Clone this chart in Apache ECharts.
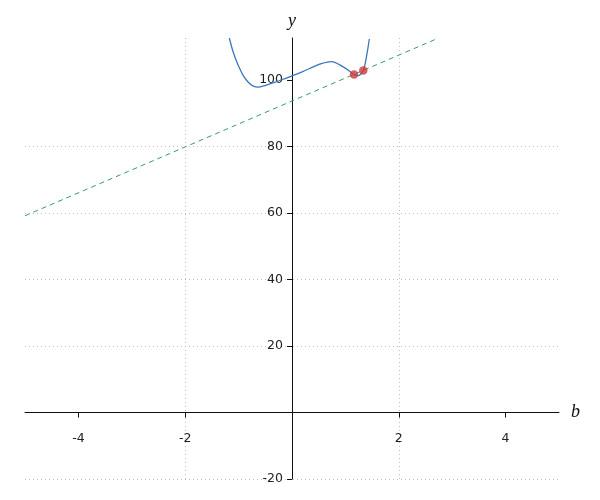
<!DOCTYPE html>
<html>
<head>
<meta charset="utf-8">
<script src="https://cdn.jsdelivr.net/npm/echarts@6/dist/echarts.min.js"></script>
<style>html,body{margin:0;padding:0;background:#fff}#c{width:600px;height:500px}</style>
</head>
<body>
<div id="c"></div>
<script>
// Curve samples
const curveX = [-1.174, -1.10, -1.006, -0.912, -0.818, -0.725, -0.631, -0.506, -0.318, -0.131, 0, 0.2, 0.4, 0.55, 0.743, 0.96, 1.086, 1.161, 1.242, 1.335, 1.398, 1.448];
const curveY = [112.7, 108.4, 104.4, 101.4, 99.4, 98.2, 97.9, 98.4, 99.4, 100.5, 101.3, 102.6, 104.0, 105.0, 105.6, 104.0, 102.6, 101.7, 101.4, 102.9, 107.4, 112.4];
// Secant line endpoints
const lineX = [-5, 2.73];
const lineY = [59.2, 112.6];
// Marked points
const pointX = [1.161, 1.335];
const pointY = [101.7, 102.9];
// Ticks
const xTicks = [-4, -2, 2, 4];
const yTicks = [-20, 20, 40, 60, 80, 100];

const zip = (a, b) => a.map((v, i) => [v, b[i]]);

const G = {left: 25, right: 41, top: 38, bottom: 21};
const W = 600, H = 500;
const chart = echarts.init(document.getElementById('c'), null, {renderer: 'canvas'});
const labelStyle = {color: '#222', fontSize: 12.5, fontFamily: 'DejaVu Sans'};
const gridLine = {color: '#bdbdbd', type: [1, 3], width: 1};
const option = {
  animation: false,
  grid: Object.assign({containLabel: false, outerBoundsMode: 'none'}, G),
  xAxis: {
    type: 'value', min: -5, max: 5, splitNumber: 5,
    name: 'b', nameLocation: 'end', nameGap: 12,
    nameTextStyle: {fontFamily: 'Liberation Serif', fontStyle: 'italic', fontSize: 18, color: '#111', verticalAlign: 'middle'},
    axisLine: {onZero: false, lineStyle: {color: '#111', width: 1}},
    axisTick: {show: true, length: 5, inside: false, customValues: xTicks, lineStyle: {color: '#111'}},
    axisLabel: Object.assign({margin: 20, customValues: xTicks}, labelStyle),
    splitLine: {show: true, showMinLine: false, showMaxLine: false, lineStyle: gridLine}
  },
  yAxis: {
    type: 'value', min: -20, max: 112.7, interval: 20,
    name: 'y', nameLocation: 'end', nameGap: 8,
    nameTextStyle: {fontFamily: 'Liberation Serif', fontStyle: 'italic', fontSize: 18, color: '#111', align: 'center'},
    axisLine: {onZero: false, lineStyle: {color: '#111', width: 1}},
    axisTick: {show: true, length: 5, inside: false, customValues: yTicks, lineStyle: {color: '#111'}},
    axisLabel: Object.assign({margin: 9, customValues: yTicks}, labelStyle),
    splitLine: {show: true, showMinLine: true, showMaxLine: false, lineStyle: gridLine}
  },
  series: [
    {
      type: 'line', data: zip(lineX, lineY), showSymbol: false, symbol: 'none',
      lineStyle: {color: '#3c9a5c', width: 1, type: [5, 4]}, z: 2
    },
    {
      type: 'line', data: zip(curveX, curveY), smooth: 0.3, showSymbol: false, symbol: 'none',
      lineStyle: {color: '#3a76bd', width: 1.3}, z: 3
    },
    {
      type: 'scatter', data: zip(pointX, pointY), symbolSize: 8.5,
      itemStyle: {color: '#cc3b3b'}, z: 4
    }
  ]
};
chart.setOption(option);
// Move both axes (line, ticks, labels) to cross at the origin
const px0 = chart.convertToPixel({xAxisIndex: 0}, 0);
const py0 = chart.convertToPixel({yAxisIndex: 0}, 0);
chart.setOption({
  xAxis: {offset: -((H - G.bottom) - py0)},
  yAxis: {offset: -(px0 - G.left)}
});
</script>
</body>
</html>
